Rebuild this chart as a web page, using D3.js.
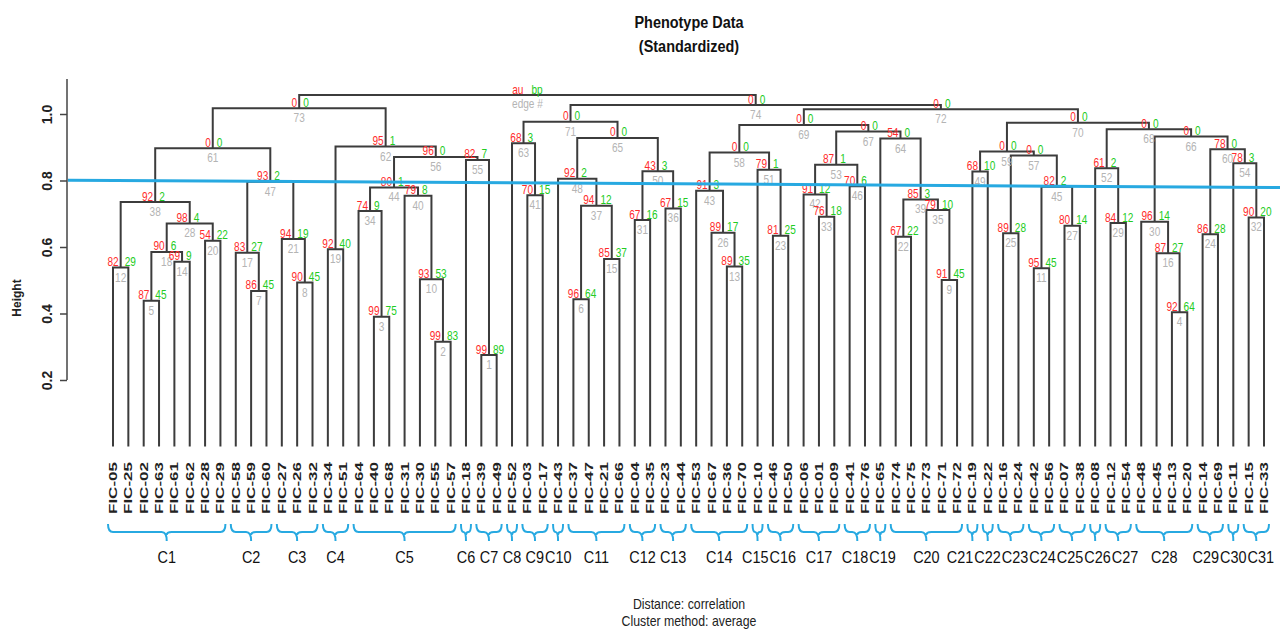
<!DOCTYPE html>
<html>
<head>
<meta charset="utf-8">
<script src="https://cdn.jsdelivr.net/npm/d3@7"></script>
<style>
  body { margin: 0; background: #fff; }
  text { font-family: "Liberation Sans", Arial, sans-serif; }
</style>
</head>
<body>
<svg id="chart" width="1280" height="637"></svg>
<script>
// leaves, in the order they are drawn
var leafLabels = ["FIC-05","FIC-25","FIC-02","FIC-63","FIC-61","FIC-62","FIC-28","FIC-29",
  "FIC-58","FIC-59","FIC-60","FIC-27","FIC-26","FIC-32","FIC-34","FIC-51",
  "FIC-64","FIC-40","FIC-68","FIC-31","FIC-30","FIC-55","FIC-57","FIC-18",
  "FIC-39","FIC-49","FIC-52","FIC-03","FIC-17","FIC-43","FIC-37","FIC-47",
  "FIC-21","FIC-66","FIC-04","FIC-35","FIC-23","FIC-44","FIC-53","FIC-67",
  "FIC-36","FIC-70","FIC-10","FIC-46","FIC-50","FIC-06","FIC-01","FIC-09",
  "FIC-41","FIC-76","FIC-65","FIC-74","FIC-75","FIC-73","FIC-71","FIC-72",
  "FIC-19","FIC-22","FIC-16","FIC-24","FIC-42","FIC-56","FIC-07","FIC-38",
  "FIC-08","FIC-12","FIC-54","FIC-48","FIC-45","FIC-13","FIC-20","FIC-14",
  "FIC-69","FIC-11","FIC-15","FIC-33"];

// merge table (hclust style): negative = leaf position, positive = earlier edge
var merges = [[-25,-26],[-22,-23],[-18,-19],[-70,-71],[-3,-4],[-31,-32],[-10,-11],[-13,-14],[-55,-56],[-21,2],
  [-61,-62],[-1,-2],[-41,-42],[-5,-6],[-33,-34],[-69,4],[-9,7],[5,14],[-15,-16],[-7,-8],
  [-12,8],[-52,-53],[-44,-45],[-72,-73],[-59,-60],[-40,13],[-63,-64],[18,20],[-66,-67],[-68,16],
  [-35,-36],[-75,-76],[-47,-48],[-17,3],[-54,9],[-37,-38],[6,15],[12,28],[22,35],[-20,10],
  [-28,-29],[-46,33],[-39,26],[34,40],[11,27],[-49,-50],[17,21],[-30,37],[-57,-58],[31,36],
  [-43,23],[-65,29],[42,46],[-74,32],[-24,1],[44,55],[25,45],[43,51],[49,57],[24,54],
  [38,47],[19,56],[-27,41],[-51,39],[48,50],[30,60],[53,64],[52,66],[58,67],[59,68],
  [63,65],[69,70],[61,62],[71,72],[73,74]];

var heights = [0.275,0.315,0.390,0.404,0.438,0.443,0.468,0.493,0.501,0.503,
  0.536,0.538,0.541,0.556,0.564,0.581,0.583,0.585,0.593,0.619,
  0.624,0.631,0.634,0.638,0.641,0.643,0.664,0.671,0.672,0.676,
  0.681,0.689,0.691,0.708,0.711,0.716,0.724,0.735,0.743,0.754,
  0.756,0.758,0.769,0.779,0.781,0.783,0.796,0.805,0.827,0.828,
  0.832,0.837,0.847,0.852,0.862,0.871,0.875,0.884,0.887,0.894,
  0.897,0.902,0.912,0.926,0.928,0.932,0.947,0.954,0.967,0.974,
  0.977,1.014,1.017,1.027,1.057];

// approximately unbiased / bootstrap probabilities (%) per edge, root has none
var auValues = [99,99,99,92,87,96,86,90,91,93,
  95,82,89,69,85,87,83,90,92,54,
  94,67,81,86,89,89,80,98,84,96,
  67,90,76,74,79,67,94,92,85,79,
  70,91,91,80,82,70,93,92,68,43,
  79,61,87,78,82,96,0,0,0,78,
  0,95,68,54,0,0,0,0,0,0,
  0,0,0,0];
var bpValues = [89,83,75,64,45,64,45,45,45,53,
  45,29,35,9,37,27,27,6,40,22,
  19,22,25,28,28,17,14,4,12,14,
  16,20,18,9,10,15,12,2,3,8,
  15,12,3,1,2,6,2,2,10,3,
  1,2,1,3,7,0,0,0,0,0,
  0,1,3,0,0,0,0,0,0,0,
  0,0,0,0];

var clusterNames = ["C1","C2","C3","C4","C5","C6","C7","C8","C9","C10","C11","C12","C13","C14","C15","C16",
  "C17","C18","C19","C20","C21","C22","C23","C24","C25","C26","C27","C28","C29","C30","C31"];
var clusterSizes = [8,3,3,2,7,1,2,1,2,1,4,2,2,4,1,2,3,2,1,5,1,1,2,2,2,1,2,4,2,1,2];

var yTicks = [0.2, 0.4, 0.6, 0.8, 1.0];
var cutHeights = [0.801, 0.779];   // cut line, left end and right end

var W = 1280, H = 637;
var svg = d3.select("#chart");
svg.append("rect").attr("width", W).attr("height", H).attr("fill", "#fff");

var x = d3.scalePoint().domain(leafLabels).range([113, 1264]);
var y = d3.scaleLinear().domain([0, 1]).range([446.5, 114]);

var SX = 0.84; // the picture is a bit narrow, text squeezed

function hText(g, tx, ty, str, sx) {
  return g.append("text")
    .attr("transform", "translate(" + tx + "," + ty + ") scale(" + (sx || SX) + ",1)")
    .text(str);
}

// build the tree from the merge table
function build(ref) {
  if (ref < 0) return { name: leafLabels[-ref - 1] };
  var m = merges[ref - 1];
  return { edge: ref, h: heights[ref - 1], children: [build(m[0]), build(m[1])] };
}
var root = d3.hierarchy(build(merges.length));
root.eachAfter(function(d) {
  if (!d.children) {
    d.px = x(d.data.name);
    d.py = y(0);
  } else {
    d.px = d3.mean(d.children, function(c) { return c.px; });
    d.py = y(d.data.h);
  }
});

// dendrogram
var inner = root.descendants().filter(function(d) { return d.children; });
svg.append("g")
  .selectAll("path")
  .data(inner)
  .enter().append("path")
  .attr("fill", "none")
  .attr("stroke", "#3c3c3c")
  .attr("stroke-width", 2)
  .attr("d", function(d) {
    var a = d.children[0], b = d.children[1];
    return "M" + a.px + "," + a.py + "V" + d.py + "H" + b.px + "V" + b.py;
  });

// au / bp / edge labels
var lab = svg.append("g").attr("font-size", 12);
inner.forEach(function(d) {
  var e = d.data.edge;
  if (e > auValues.length) return;
  hText(lab, d.px - 2, d.py - 1.5, auValues[e - 1]).attr("fill", "#ff2b2b").attr("text-anchor", "end");
  hText(lab, d.px + 4, d.py - 1.5, bpValues[e - 1]).attr("fill", "#22cc22");
  hText(lab, d.px, d.py + 14, e).attr("fill", "#b4b4b4").attr("text-anchor", "middle");
});
// legend at the root
hText(lab, root.px - 4, root.py - 1.5, "au").attr("fill", "#ff2b2b").attr("text-anchor", "end");
hText(lab, root.px + 4, root.py - 1.5, "bp").attr("fill", "#22cc22");
hText(lab, root.px, root.py + 13, "edge #").attr("fill", "#b4b4b4").attr("text-anchor", "middle");

// cut line
svg.append("line")
  .attr("x1", 68).attr("x2", W)
  .attr("y1", y(cutHeights[0])).attr("y2", y(cutHeights[1]))
  .attr("stroke", "#27a9e1").attr("stroke-width", 3);

// y axis
var axis = d3.axisLeft(y).tickValues(yTicks).tickFormat(d3.format(".1f")).tickSize(7).tickSizeOuter(0);
var ga = svg.append("g").attr("transform", "translate(67,0)").call(axis);
ga.select(".domain").remove();
ga.append("line").attr("y1", y(1.105)).attr("y2", y(0.2)).attr("stroke", "#444").attr("stroke-width", 1.5);
ga.selectAll(".tick line").attr("stroke", "#444").attr("stroke-width", 1.5);
ga.selectAll(".tick text")
  .attr("transform", "rotate(-90)")
  .attr("x", 0).attr("y", -15).attr("dy", null)
  .attr("text-anchor", "middle")
  .attr("font-family", "Liberation Sans, Arial, sans-serif")
  .attr("font-size", 14)
  .attr("font-weight", "bold")
  .attr("fill", "#222");

svg.append("text")
  .attr("transform", "translate(21,298) rotate(-90)")
  .attr("text-anchor", "middle")
  .attr("font-size", 12).attr("font-weight", "bold").attr("fill", "#222")
  .text("Height");

// leaf labels
svg.append("g")
  .selectAll("text")
  .data(leafLabels)
  .enter().append("text")
  .attr("transform", function(d) { return "translate(" + (x(d) + 4) + ",462) rotate(-90)"; })
  .attr("text-anchor", "end")
  .attr("font-size", 11).attr("font-weight", "bold").attr("fill", "#222")
  .attr("textLength", 52).attr("lengthAdjust", "spacingAndGlyphs")
  .text(function(d) { return d; });

// cluster brackets
var starts = d3.cumsum([0].concat(clusterSizes.slice(0, -1)));
var gb = svg.append("g");
var centers = [];
clusterNames.forEach(function(name, i) {
  var x0 = x(leafLabels[starts[i]]) - 5;
  var x1 = x(leafLabels[starts[i] + clusterSizes[i] - 1]) + 5;
  var cx = (x0 + x1) / 2, top = 524, mid = 532, bot = 541;
  var r = Math.min(5, (x1 - x0) / 4);
  centers.push(cx);
  gb.append("path")
    .attr("fill", "none").attr("stroke", "#27a9e1").attr("stroke-width", 2)
    .attr("d", "M" + x0 + "," + top + "Q" + x0 + "," + mid + " " + (x0 + r) + "," + mid +
      "H" + (cx - r) + "Q" + cx + "," + mid + " " + cx + "," + bot +
      "M" + cx + "," + (mid + 3) + "Q" + cx + "," + mid + " " + (cx + r) + "," + mid +
      "H" + (x1 - r) + "Q" + x1 + "," + mid + " " + x1 + "," + top);
});

// cluster names: start under the bracket, then push apart where they collide
var cl = gb.selectAll("text.cl")
  .data(clusterNames)
  .enter().append("text")
  .attr("class", "cl")
  .attr("text-anchor", "middle")
  .attr("font-family", "Open Sans, Lato, sans-serif")
  .attr("font-size", 17).attr("fill", "#111")
  .text(function(d) { return d; });
var widths = [];
cl.each(function() { widths.push(this.getComputedTextLength() * 0.85); });
var pos = centers.slice();
for (var it = 0; it < 200; it++) {
  for (var i = 0; i < pos.length - 1; i++) {
    var ov = (pos[i] + widths[i] / 2 + 1) - (pos[i + 1] - widths[i + 1] / 2);
    if (ov > 0) { pos[i] -= ov / 2; pos[i + 1] += ov / 2; }
  }
  var last = pos.length - 1;
  if (pos[last] + widths[last] / 2 > W - 1) pos[last] = W - 1 - widths[last] / 2;
}
cl.attr("transform", function(d, i) { return "translate(" + pos[i] + ",563) scale(0.85,1)"; });

// titles
var gt = svg.append("g").attr("text-anchor", "middle").attr("fill", "#111");
hText(gt, 689, 28, "Phenotype Data", 0.85).attr("font-size", 17).attr("font-weight", "bold");
hText(gt, 689, 52, "(Standardized)", 0.85).attr("font-size", 17).attr("font-weight", "bold");
hText(gt, 689, 609, "Distance:  correlation", 0.88).attr("font-size", 14).attr("fill", "#222");
hText(gt, 689, 626, "Cluster method: average", 0.88).attr("font-size", 14).attr("fill", "#222");
</script>
</body>
</html>
